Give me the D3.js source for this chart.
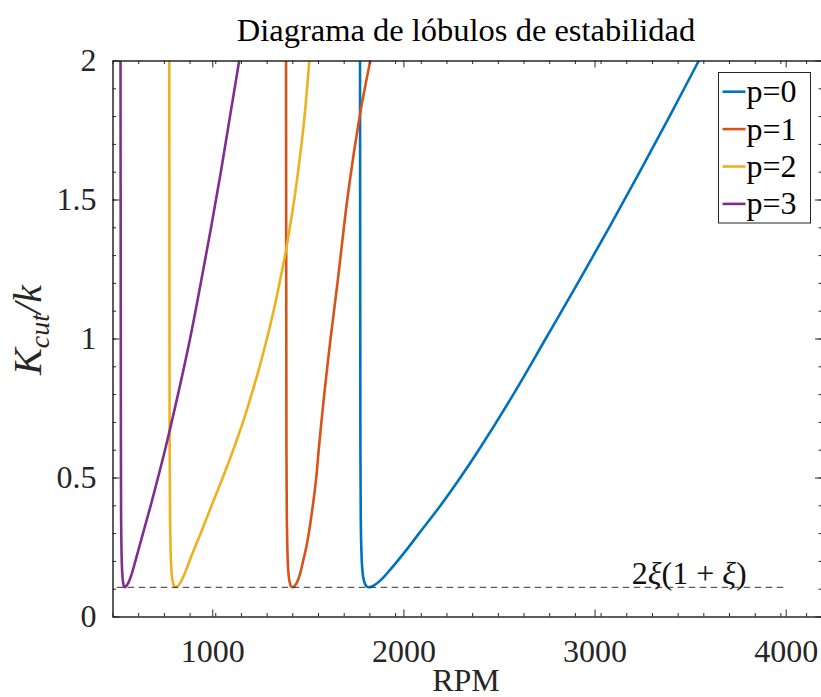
<!DOCTYPE html>
<html>
<head>
<meta charset="utf-8">
<script src="https://cdn.jsdelivr.net/npm/d3@7"></script>
<style>
  body { margin: 0; background: #fff; }
  svg { display: block; font-family: 'Liberation Serif', serif; }
</style>
</head>
<body>
<svg id="chart"></svg>
<script>
// Stability lobes, values (RPM, Kcut/k)

const lobeLabels = ["p=0", "p=1", "p=2", "p=3"];
const lobeColors = ["#0072BD", "#D95319", "#EDB120", "#7E2F8E"];

// p=0
const rpmP0 = [1773, 1774, 1775, 1777, 1780, 1785, 1793, 1805, 1818,
               1835, 1855, 1880, 1910, 1960, 2022, 2083, 2195, 2298, 2395, 2576, 2745, 2913, 3077, 3237, 3393, 3546];
const kP0   = [2.0, 1.2, 0.6, 0.35, 0.24, 0.17, 0.13, 0.11, 0.105,
               0.108, 0.116, 0.13, 0.152, 0.192, 0.245, 0.3, 0.4, 0.5, 0.6, 0.8, 1.0, 1.2, 1.4, 1.6, 1.8, 2.0];

// p=1
const rpmP1 = [1386, 1387, 1388, 1390, 1393, 1397, 1403, 1411, 1420,
               1428, 1437, 1448, 1460, 1473, 1492, 1505, 1521, 1532, 1543, 1557, 1571, 1586, 1602, 1619,
               1637, 1655, 1672, 1703, 1737, 1773, 1798, 1827];
const kP1   = [2.0, 1.2, 0.6, 0.35, 0.24, 0.17, 0.13, 0.11, 0.105,
               0.108, 0.115, 0.13, 0.155, 0.193, 0.25, 0.3, 0.373, 0.43, 0.493, 0.6, 0.7, 0.8, 0.9, 1.0,
               1.1, 1.2, 1.3, 1.482, 1.65, 1.806, 1.9, 2.0];

// p=2
const rpmP2 = [775, 776, 777, 779, 782, 786, 792, 800, 808,
               815, 822, 832, 842, 853, 867, 881, 910, 940, 997, 1055, 1110, 1161, 1206, 1248, 1286,
               1321, 1352, 1381, 1406, 1429, 1449, 1467, 1483, 1496, 1508];
const kP2   = [2.0, 1.2, 0.6, 0.35, 0.24, 0.17, 0.13, 0.11, 0.105,
               0.107, 0.111, 0.12, 0.134, 0.15, 0.174, 0.2, 0.25, 0.3, 0.4, 0.5, 0.6, 0.7, 0.8, 0.9, 1.0,
               1.1, 1.2, 1.3, 1.4, 1.5, 1.6, 1.7, 1.8, 1.9, 2.0];

// p=3
const rpmP3 = [520, 521, 522, 523, 525, 528, 532, 537, 542,
               548, 560, 577, 598, 638, 678, 753, 821, 884, 940, 994, 1045, 1093, 1141];
const kP3   = [2.0, 1.2, 0.6, 0.35, 0.24, 0.17, 0.13, 0.11, 0.105,
               0.108, 0.12, 0.15, 0.2, 0.3, 0.4, 0.6, 0.8, 1.0, 1.2, 1.4, 1.6, 1.8, 2.0];

const lobeRpm = [rpmP0, rpmP1, rpmP2, rpmP3];
const lobeK = [kP0, kP1, kP2, kP3];

// minimum limit 2*xi*(1+xi), xi = 0.05
const limitK = 0.105;
const limitRpm = [500, 4000];
const limitLabelRpm = 3195;

const xTicks = [1000, 2000, 3000, 4000];
const yTicks = [0, 0.5, 1, 1.5, 2];
const xDomain = [478, 4190];
const yDomain = [0, 2];

// layout
const width = 821;
const height = 697;
const plotLeft = 112.5, plotRight = 822, plotTop = 60.5, plotBottom = 616.5;
const axisColor = "#262626";
const serif = "'Liberation Serif', serif";

const svg = d3.select("#chart")
    .attr("width", width)
    .attr("height", height);

const x = d3.scaleLinear().domain(xDomain).range([plotLeft, plotRight]);
const y = d3.scaleLinear().domain(yDomain).range([plotBottom, plotTop]);

svg.append("clipPath").attr("id", "plot-clip")
    .append("rect")
    .attr("x", plotLeft).attr("y", plotTop)
    .attr("width", plotRight - plotLeft).attr("height", plotBottom - plotTop);

const plot = svg.append("g").attr("clip-path", "url(#plot-clip)");

// lobes
const line = d3.line()
    .x(d => x(d[0]))
    .y(d => y(d[1]))
    .curve(d3.curveCatmullRom.alpha(0.5));

lobeRpm.forEach((rpm, i) => {
    const pts = rpm.map((r, j) => [r, lobeK[i][j]]);
    plot.append("path")
        .datum(pts)
        .attr("d", line)
        .attr("fill", "none")
        .attr("stroke", lobeColors[i])
        .attr("stroke-width", 2.6)
        .attr("stroke-linejoin", "round");
});

// dashed limit line
svg.append("line")
    .attr("x1", x(limitRpm[0])).attr("x2", x(limitRpm[1]))
    .attr("y1", y(limitK)).attr("y2", y(limitK))
    .attr("stroke", "#333")
    .attr("stroke-width", 1)
    .attr("stroke-dasharray", "6.5,4.5");

const lim = svg.append("text")
    .attr("x", x(limitLabelRpm))
    .attr("y", y(limitK) - 3)
    .attr("font-family", serif)
    .attr("font-size", 32)
    .attr("fill", "#111");
lim.append("tspan").text("2");
lim.append("tspan").attr("font-style", "italic").text("ξ");
lim.append("tspan").text("(1 + ");
lim.append("tspan").attr("font-style", "italic").text("ξ");
lim.append("tspan").text(")");

// axes
const xMinor = d3.range(xDomain[0], xDomain[1], 134.4);
const yMinor = d3.range(0, 2.0001, 0.1);

function styleAxis(g) {
    g.attr("font-family", serif);
    g.selectAll("path, line").attr("stroke", axisColor);
    g.selectAll("text").attr("fill", axisColor).attr("font-family", serif).attr("font-size", 32);
}

// bottom
svg.append("g").attr("transform", `translate(0,${plotBottom})`)
    .call(d3.axisBottom(x).tickValues(xMinor).tickSizeInner(-3.5).tickSizeOuter(0).tickFormat(""))
    .call(styleAxis);
svg.append("g").attr("transform", `translate(0,${plotBottom})`)
    .call(d3.axisBottom(x).tickValues(xTicks).tickSizeInner(-7).tickSizeOuter(0).tickPadding(23).tickFormat(d3.format("d")))
    .call(styleAxis);

// top
svg.append("g").attr("transform", `translate(0,${plotTop})`)
    .call(d3.axisTop(x).tickValues(xMinor).tickSizeInner(-3.5).tickSizeOuter(0).tickFormat(""))
    .call(styleAxis);
svg.append("g").attr("transform", `translate(0,${plotTop})`)
    .call(d3.axisTop(x).tickValues(xTicks).tickSizeInner(-7).tickSizeOuter(0).tickFormat(""))
    .call(styleAxis);

// left
svg.append("g").attr("transform", `translate(${plotLeft},0)`)
    .call(d3.axisLeft(y).tickValues(yMinor).tickSizeInner(-3.5).tickSizeOuter(0).tickFormat(""))
    .call(styleAxis);
svg.append("g").attr("transform", `translate(${plotLeft},0)`)
    .call(d3.axisLeft(y).tickValues(yTicks).tickSizeInner(-7).tickSizeOuter(0).tickPadding(16).tickFormat(d => String(d)))
    .call(styleAxis);

// right
svg.append("g").attr("transform", `translate(${plotRight},0)`)
    .call(d3.axisRight(y).tickValues(yMinor).tickSizeInner(-3.5).tickSizeOuter(0).tickFormat(""))
    .call(styleAxis);
svg.append("g").attr("transform", `translate(${plotRight},0)`)
    .call(d3.axisRight(y).tickValues(yTicks).tickSizeInner(-7).tickSizeOuter(0).tickFormat(""))
    .call(styleAxis);

// title and labels
svg.append("text")
    .attr("x", 466).attr("y", 41)
    .attr("text-anchor", "middle")
    .attr("font-family", serif)
    .attr("font-size", 32.5)
    .attr("fill", "#000")
    .text("Diagrama de lóbulos de estabilidad");

svg.append("text")
    .attr("x", 466).attr("y", 691)
    .attr("text-anchor", "middle")
    .attr("font-family", serif)
    .attr("font-size", 32)
    .attr("fill", axisColor)
    .text("RPM");

const yl = svg.append("text")
    .attr("transform", "translate(41,330) rotate(-90)")
    .attr("text-anchor", "middle")
    .attr("font-family", serif)
    .attr("font-size", 40)
    .attr("font-style", "italic")
    .attr("fill", axisColor);
yl.append("tspan").text("K");
yl.append("tspan").attr("font-size", 28).attr("dy", 8).text("cut");
yl.append("tspan").attr("dy", -8).text("/k");

// legend
const legX = 718.5, legY = 72.5, legW = 92, legH = 150.5, rowH = 37.4;
const legend = svg.append("g");
legend.append("rect")
    .attr("x", legX).attr("y", legY)
    .attr("width", legW).attr("height", legH)
    .attr("fill", "#fff")
    .attr("stroke", axisColor)
    .attr("stroke-width", 1);

lobeLabels.forEach((lab, i) => {
    const ry = legY + 19.2 + i * rowH;
    legend.append("line")
        .attr("x1", legX + 4).attr("x2", legX + 27)
        .attr("y1", ry).attr("y2", ry)
        .attr("stroke", lobeColors[i])
        .attr("stroke-width", 2.6);
    legend.append("text")
        .attr("x", legX + 28).attr("y", ry + 10.5)
        .attr("font-family", serif)
        .attr("font-size", 32)
        .attr("fill", "#000")
        .text(lab);
});
</script>
</body>
</html>
